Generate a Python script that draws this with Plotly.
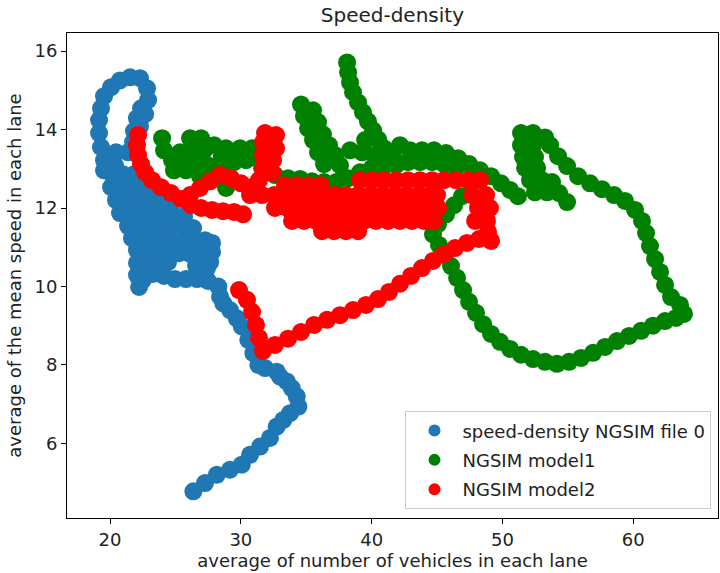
import plotly.graph_objects as go

# ---- data: (average vehicles per lane, average mean speed) ----
blue_tail = [(26.37, 4.78), (27.26, 4.99), (28.16, 5.20), (29.17, 5.33), (30.07, 5.46), (30.70, 5.71),
             (31.47, 5.92), (32.23, 6.14), (32.74, 6.43), (33.25, 6.60), (33.76, 6.77), (34.40, 6.94),
             (34.27, 7.20), (33.89, 7.41), (33.51, 7.58), (33.00, 7.70), (32.74, 7.83), (31.85, 7.92),
             (31.34, 8.00), (30.96, 8.30), (30.57, 8.64), (30.07, 8.98), (29.69, 9.19), (29.17, 9.40),
             (28.66, 9.57), (28.41, 9.74), (28.28, 10.00)]
blue_band = [(27.49, 10.14), (26.65, 10.19), (25.81, 10.19), (24.97, 10.19), (24.13, 10.27), (23.29, 10.32),
             (22.52, 10.17), (22.22, 9.99), (22.06, 10.29), (22.06, 10.60), (22.68, 10.57), (23.59, 10.62),
             (24.43, 10.62), (26.58, 10.52), (27.42, 10.47), (27.65, 10.62),
             (27.80, 10.88), (26.96, 10.88), (26.12, 10.83), (25.28, 10.85), (24.43, 10.88), (23.59, 10.90),
             (22.75, 10.93), (22.06, 10.93),
             (21.68, 11.23), (22.22, 11.23), (23.06, 11.23), (23.90, 11.21), (24.74, 11.18), (25.58, 11.16),
             (26.42, 11.18), (27.26, 11.18), (27.80, 11.11),
             (26.35, 11.49), (25.58, 11.54), (24.74, 11.56), (23.90, 11.56), (23.06, 11.56), (22.22, 11.56),
             (21.38, 11.54),
             (20.76, 11.87), (21.45, 11.87), (22.29, 11.87), (23.13, 11.87), (23.98, 11.87), (24.82, 11.84),
             (25.66, 11.79),
             (24.59, 12.15), (23.82, 12.20), (22.98, 12.20), (22.14, 12.20), (21.30, 12.20), (20.46, 12.20),
             (20.08, 12.53), (20.92, 12.53), (21.76, 12.53), (22.60, 12.53), (23.44, 12.48),
             (22.68, 12.84), (21.83, 12.86), (20.99, 12.86), (20.15, 12.86), (19.54, 12.96)]
blue_loop = [(19.54, 13.22), (19.31, 13.55), (19.16, 13.91), (19.16, 14.24), (19.31, 14.54), (19.54, 14.85),
             (20.08, 15.08), (20.76, 15.25), (21.53, 15.33), (22.29, 15.31), (22.83, 15.05), (22.91, 14.75),
             (22.37, 14.54), (22.68, 14.39), (22.06, 14.29), (22.29, 14.08), (21.83, 13.96), (21.76, 13.68),
             (21.38, 13.42), (20.46, 13.42), (20.38, 13.09)]

green_left = [(23.98, 13.78), (24.13, 13.47), (24.74, 13.22), (25.35, 13.42), (26.12, 13.78), (26.96, 13.78),
              (27.19, 13.47), (27.95, 13.60), (28.87, 13.52), (29.94, 13.52), (30.86, 13.52), (31.31, 13.27),
              (30.40, 13.22), (29.48, 13.17), (28.56, 13.12), (27.65, 13.07), (26.73, 12.99), (25.81, 12.96),
              (24.89, 12.96), (26.88, 12.81), (27.87, 12.91), (28.87, 12.51), (26.27, 13.47),
              (25.81, 13.30), (26.73, 13.27), (28.56, 13.32),
              (31.62, 13.02), (32.61, 12.84), (33.61, 12.76), (34.53, 12.74), (35.44, 12.68), (36.36, 12.66),
              (37.28, 12.66), (38.20, 12.76), (39.11, 12.91), (40.03, 13.02), (40.95, 13.07), (41.87, 13.09)]
green_spikes = [(34.60, 14.64), (34.83, 14.34), (35.14, 14.03), (35.52, 13.73), (35.90, 13.42), (36.36, 13.12),
                (35.52, 14.49), (35.90, 14.19), (36.28, 13.88), (36.74, 13.60), (37.20, 13.35), (37.58, 13.09),
                (38.12, 15.71), (38.20, 15.46), (38.35, 15.20), (38.58, 14.95), (38.96, 14.69), (39.34, 14.44),
                (39.72, 14.21), (40.11, 13.98), (40.49, 13.75), (40.95, 13.52), (41.41, 13.32), (41.94, 13.17),
                (39.50, 13.73), (39.27, 13.42), (40.18, 13.35), (38.35, 13.47)]
green_band = [(42.17, 13.60), (42.94, 13.47), (43.85, 13.47), (44.77, 13.47), (45.69, 13.40), (46.61, 13.27),
              (47.45, 13.12), (48.29, 12.96), (49.13, 12.81), (49.89, 12.63), (50.58, 12.46), (51.19, 12.30),
              (42.78, 13.17), (43.70, 13.17), (44.62, 13.17), (45.54, 13.12), (46.45, 13.02)]
green_cluster = [(51.42, 13.91), (52.34, 13.91), (53.26, 13.80), (51.42, 13.60), (52.34, 13.60), (51.57, 13.30),
                 (52.49, 13.30), (51.73, 13.02), (52.65, 13.02), (52.11, 12.71), (53.03, 12.71), (53.79, 12.66),
                 (52.49, 12.40), (53.41, 12.40), (54.33, 12.38), (54.94, 12.15)]
green_loop = [(53.64, 13.60), (54.25, 13.32), (54.94, 13.07), (55.78, 12.81), (56.70, 12.63), (57.61, 12.48),
              (58.53, 12.33), (59.37, 12.18), (60.14, 11.95), (60.67, 11.67), (60.98, 11.36), (61.28, 11.03),
              (61.67, 10.70), (62.05, 10.37), (62.43, 10.04), (62.89, 9.73), (63.58, 9.53), (63.88, 9.30),
              (63.27, 9.20), (62.43, 9.12), (61.51, 9.00), (60.60, 8.87), (59.68, 8.74), (58.76, 8.61),
              (57.84, 8.46), (56.93, 8.31), (56.01, 8.18), (55.09, 8.08), (54.17, 8.03), (53.26, 8.08),
              (52.34, 8.15), (51.42, 8.26), (50.58, 8.41), (49.82, 8.59), (49.13, 8.79), (48.52, 9.04),
              (47.98, 9.33), (47.45, 9.61), (46.99, 9.91), (46.53, 10.22), (46.07, 10.52), (45.61, 10.80),
              (45.15, 11.06), (44.69, 11.33), (45.08, 11.59), (45.69, 11.84), (46.30, 12.07), (46.91, 12.30)]

red_left = [(22.14, 13.86), (22.06, 13.60), (22.14, 13.35), (22.37, 13.12), (22.68, 12.91), (23.21, 12.71),
            (23.90, 12.53), (24.66, 12.38), (25.43, 12.23), (26.19, 12.07), (26.96, 12.00), (27.80, 11.95),
            (28.64, 11.92), (29.48, 11.90), (30.17, 11.84),
            (26.12, 12.33), (26.88, 12.51), (27.65, 12.68), (28.41, 12.84), (29.25, 12.76), (30.02, 12.63),
            (30.78, 12.53), (31.39, 12.71), (31.70, 13.02), (31.70, 13.35), (31.70, 13.68), (31.85, 13.91),
            (32.69, 13.86), (32.69, 13.52), (32.46, 13.22), (32.39, 12.91)]
red_band = [(33.38, 12.58), (34.30, 12.58), (35.21, 12.58), (36.13, 12.58),
            (39.11, 12.71), (40.03, 12.71), (40.95, 12.71), (41.87, 12.71), (42.78, 12.71), (43.70, 12.71),
            (44.62, 12.71), (45.54, 12.71), (46.45, 12.71), (47.37, 12.71), (48.29, 12.71),
            (30.70, 12.33), (31.62, 12.33), (32.54, 12.33), (33.46, 12.33), (34.37, 12.33), (35.29, 12.33),
            (36.21, 12.33), (37.13, 12.33), (38.04, 12.33), (38.96, 12.33), (39.88, 12.33), (40.80, 12.33),
            (41.71, 12.33), (42.63, 12.33), (43.55, 12.33), (44.46, 12.33), (45.00, 12.33), (47.68, 12.33),
            (48.75, 12.33),
            (32.61, 12.00), (33.53, 12.00), (34.45, 12.00), (35.37, 12.00), (36.28, 12.00), (37.20, 12.00),
            (38.12, 12.00), (39.04, 12.00), (39.95, 12.00), (40.87, 12.00), (41.79, 12.00), (42.71, 12.00),
            (43.62, 12.00), (44.54, 12.00), (45.08, 12.00), (48.13, 12.00), (49.05, 12.00),
            (33.91, 11.67), (34.83, 11.67), (35.75, 11.67), (36.67, 11.67), (37.58, 11.67), (38.50, 11.67),
            (39.42, 11.67), (40.34, 11.67), (41.25, 11.67), (42.17, 11.67), (43.09, 11.67), (44.01, 11.67),
            (44.77, 11.67), (47.91, 11.67), (48.82, 11.67),
            (36.21, 11.41), (37.13, 11.41), (38.04, 11.41), (38.96, 11.41), (48.90, 11.39)]
red_diag = [(49.13, 11.16), (48.21, 11.21), (47.29, 11.11), (46.38, 10.98), (45.54, 10.83), (44.69, 10.65),
            (43.85, 10.47), (43.01, 10.27), (42.17, 10.07), (41.33, 9.86), (40.49, 9.68), (39.57, 9.53),
            (38.58, 9.40), (37.58, 9.27), (36.59, 9.15), (35.60, 9.02), (34.60, 8.84), (33.61, 8.67),
            (32.61, 8.51), (31.70, 8.36), (31.39, 8.69), (31.16, 9.02), (30.86, 9.35), (30.47, 9.66),
            (29.86, 9.91)]

series = [
    ("speed-density NGSIM file 0", "#1f77b4", blue_tail + blue_band + blue_loop),
    ("NGSIM model1", "#008000", green_left + green_spikes + green_band + green_cluster + green_loop),
    ("NGSIM model2", "#ff0000", red_left + red_band + red_diag),
]
x_ticks = [20, 30, 40, 50, 60]
y_ticks = [6, 8, 10, 12, 14, 16]

FONT = "DejaVu Sans"
TXT = "#222222"

fig = go.Figure()
for i, (name, color, pts) in enumerate(series):
    fig.add_trace(go.Scatter(
        x=[p[0] for p in pts], y=[p[1] for p in pts], mode="markers", name=name,
        legendgroup=f"g{i}",
        marker=dict(color=color, size=18, line=dict(width=0), opacity=1),
    ))

axis_common = dict(showline=True, linecolor="#000000", linewidth=1, mirror=True,
                   ticks="outside", ticklen=5, tickcolor="#000000", tickwidth=1,
                   showgrid=False, zeroline=False, automargin=False,
                   tickfont=dict(family=FONT, size=18, color=TXT))

fig.update_layout(
    width=720, height=573,
    margin=dict(l=67, r=2, t=33, b=55),
    paper_bgcolor="white", plot_bgcolor="white",
    font=dict(family=FONT, color=TXT, size=18),
    title=dict(text="Speed-density", x=0.545, xanchor="center", y=0.974, yanchor="middle",
               font=dict(family=FONT, size=20, color=TXT)),
    xaxis=dict(range=[16.71, 66.48], tickvals=x_ticks,
               title=dict(text="average of number of vehicles in each lane", standoff=4,
                          font=dict(family=FONT, size=18, color=TXT)),
               **axis_common),
    yaxis=dict(range=[4.10, 16.46], tickvals=y_ticks,
               title=dict(text="average of the mean speed in each lane", standoff=8,
                          font=dict(family=FONT, size=18, color=TXT)),
               **axis_common),
    legend=dict(x=0.99, xanchor="right", y=0.018, yanchor="bottom",
                bgcolor="rgba(255,255,255,0.85)", bordercolor="#cccccc", borderwidth=1,
                font=dict(family=FONT, size=18, color=TXT),
                itemsizing="constant", itemwidth=46, tracegroupgap=3),
    showlegend=True,
)

fig.write_html("out.html", config={"displayModeBar": False},
               post_script="document.body.style.margin='0';document.body.style.overflow='hidden';")
